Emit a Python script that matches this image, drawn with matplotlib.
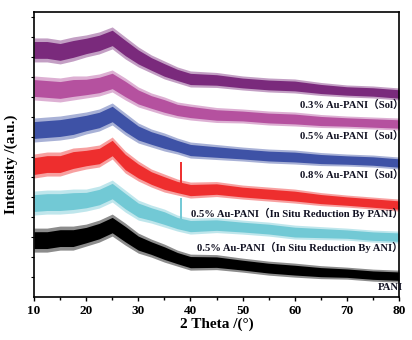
import matplotlib
matplotlib.use('Agg')
import matplotlib.pyplot as plt
import numpy as np

plt.rcParams['font.family'] = ['Liberation Serif', 'Noto Sans CJK SC']
plt.rcParams['font.weight'] = 'bold'

# 2 theta sample points, centre line of each noisy trace (a.u., already offset)
theta = [10, 12.5, 15, 17.5, 20, 22.5, 25, 27.5, 30, 32.5, 35, 37.5, 40,
         45, 50, 55, 60, 65, 70, 75, 80]

purple = [247, 247, 245, 248, 251, 254, 259, 249, 240, 233, 227, 222, 218,
          217, 214, 212, 211, 208, 206, 205, 203]
pink = [209, 208, 207, 209, 210, 212, 216, 208, 200, 195, 191, 187, 185,
        182, 181, 179, 178, 176, 175, 174, 173]
blue = [167, 168, 169, 171, 174, 177, 183, 173, 164, 159, 155, 151, 147,
        145, 143, 141, 140, 138, 137, 136, 134]
red = [131, 133, 133, 137, 139, 141, 149, 135, 126, 119, 114, 110, 107,
       108, 105, 103, 101, 98, 96, 94, 92]
cyan = [94, 95, 95, 96, 97, 100, 106, 96, 87, 83, 79, 74, 71,
        72, 70, 68, 65, 64, 63, 61, 60]
black = [57, 57, 59, 59, 62, 66, 72, 63, 54, 49, 44, 39, 35,
         35, 32, 29, 27, 25, 24, 22, 21]

# half thickness of the noise band
spread = [12, 12, 12, 12, 11, 11, 11, 11, 10, 9, 9, 8, 8,
          7.5, 7, 7, 7, 6.5, 6, 6, 6]

# sharp Au peak near 38 deg
spike_x = 38.2
red_spike = [105, 135]
cyan_spike = [70, 99]

colors = ['#7a2a7c', '#b5519f', '#3e52a6', '#ee2e2e', '#72c9d5', '#000000']
series = [purple, pink, blue, red, cyan, black]

labels = ['0.3% Au-PANI（Sol）', '0.5% Au-PANI（Sol）', '0.8% Au-PANI（Sol）',
          '0.5% Au-PANI（In Situ Reduction By PANI）',
          '0.5% Au-PANI（In Situ Reduction By ANI）', 'PANI']
label_y = [192, 161, 122, 84, 50, 10]

fig = plt.figure(figsize=(4.12, 3.40), dpi=100)
ax = fig.add_axes([0.0825, 0.126, 0.886, 0.839])

sp = np.array(spread)
for y, c in zip(series, colors):
    y = np.array(y)
    # fuzzy outer fringe, then solid core
    ax.fill_between(theta, y - sp, y + sp, color=c, alpha=0.45, linewidth=0)
    ax.fill_between(theta, y - 0.7 * sp, y + 0.7 * sp, color=c, linewidth=0)

ax.vlines(spike_x, red_spike[0], red_spike[1], color=colors[3], linewidth=1.4)
ax.vlines(spike_x, cyan_spike[0], cyan_spike[1], color=colors[4], linewidth=1.4)

for t, y in zip(labels, label_y):
    ax.text(80.8, y, t, ha='right', va='center', fontsize=7.7, fontweight='bold',
            color='#111122')

ax.set_xlim(10, 80)
ax.set_ylim(0, 285)
ax.set_xticks(np.arange(10, 81, 10))
ax.set_xticks(np.arange(15, 80, 10), minor=True)
ax.set_yticks(np.arange(20, 285, 20))
ax.tick_params(axis='x', direction='out', length=3, width=1, labelsize=9.5, pad=3)
ax.tick_params(axis='x', which='minor', direction='out', length=2.5, width=1)
ax.tick_params(axis='y', direction='out', length=2, width=0.8, labelleft=False)
for lab in ax.get_xticklabels():
    lab.set_fontweight('bold')
for s in ax.spines.values():
    s.set_linewidth(1.2)

ax.set_xlabel('2 Theta /(°)', fontsize=11, fontweight='bold', labelpad=0)
ax.set_ylabel('Intensity /(a.u.)', fontsize=11, fontweight='bold')
ax.yaxis.set_label_coords(-0.045, 0.465)

fig.savefig('out.png', dpi=100)
